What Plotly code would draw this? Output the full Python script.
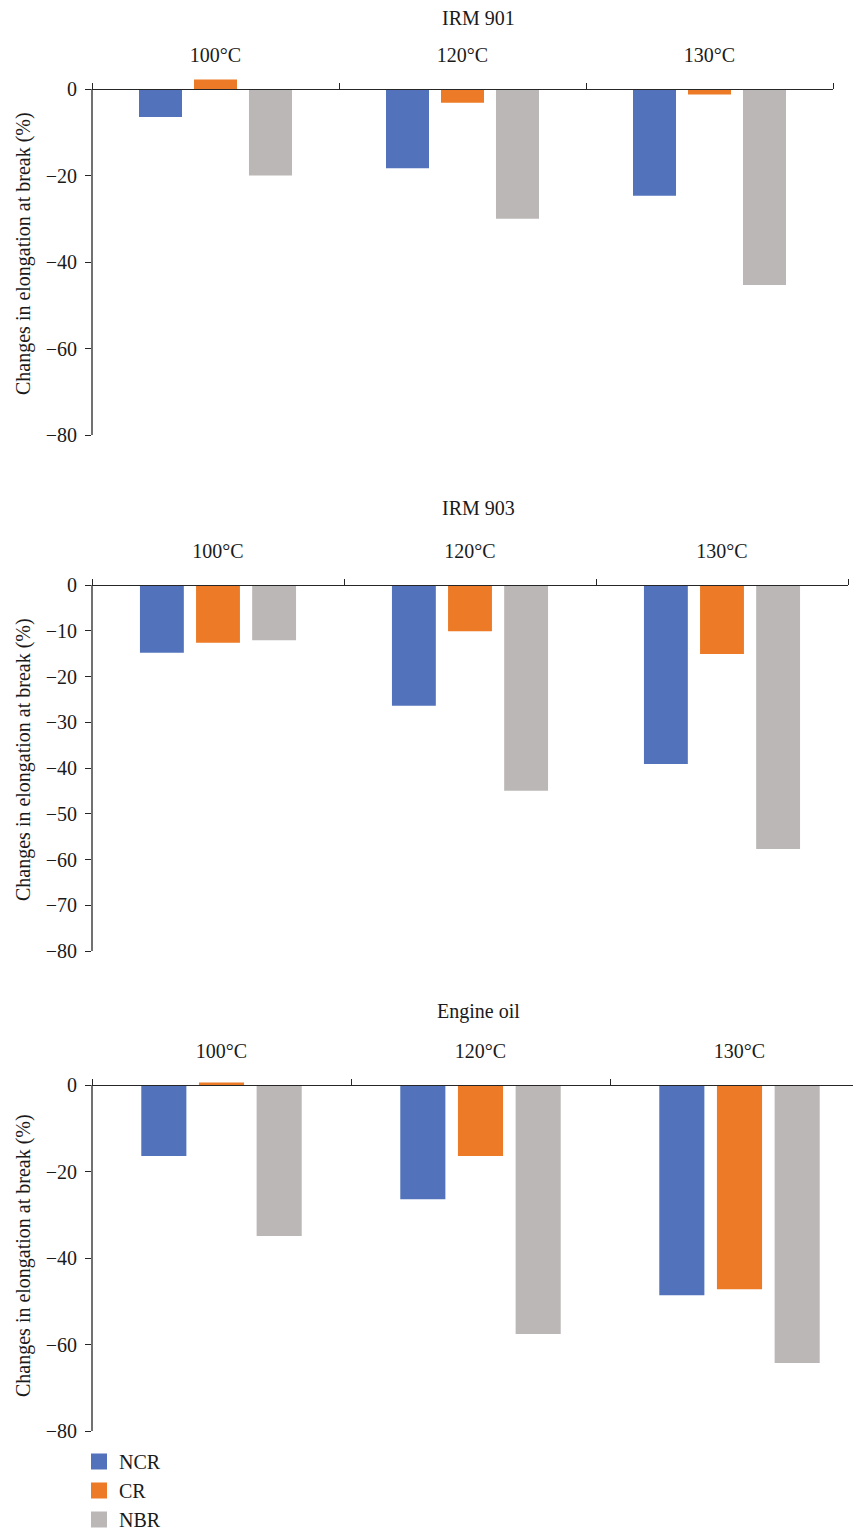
import plotly.graph_objects as go

temps = ["100°C", "120°C", "130°C"]
series = ["NCR", "CR", "NBR"]
colors = {"NCR": "#5273BB", "CR": "#EC7A26", "NBR": "#BBB7B6"}

panel_titles = ["IRM 901", "IRM 903", "Engine oil"]

irm901_ncr = [-6.5, -18.3, -24.7]
irm901_cr = [2.2, -3.2, -1.3]
irm901_nbr = [-20.0, -30.0, -45.3]

irm903_ncr = [-14.8, -26.4, -39.1]
irm903_cr = [-12.6, -10.1, -15.1]
irm903_nbr = [-12.1, -45.0, -57.7]

oil_ncr = [-16.4, -26.4, -48.6]
oil_cr = [0.6, -16.4, -47.2]
oil_nbr = [-34.9, -57.6, -64.3]

y_dticks = [20, 10, 20]
y_min, y_zero = -80, 0
y_title = "Changes in elongation at break (%)"

panels = [
    {"NCR": irm901_ncr, "CR": irm901_cr, "NBR": irm901_nbr},
    {"NCR": irm903_ncr, "CR": irm903_cr, "NBR": irm903_nbr},
    {"NCR": oil_ncr, "CR": oil_cr, "NBR": oil_nbr},
]

OFF = 8  # default page body margin
W, H = 861, 1531 - OFF
FONT = "Liberation Serif"
AX = "#262626"
TXT = "#1a1a1a"
HEADROOM = 2.8  # extra data units above zero so positive bars are visible


def px_x(p):
    return (p - OFF) / W


def px_y(p):
    return 1 - (p - OFF) / H


# page pixel layout (px of zero line, px of -80, left px, right px)
boxes = [(89, 435, 92, 833), (585, 951, 92, 848), (1085, 1431, 92, 869)]
title_px = [18, 508, 1011]
ytitle_px = [254, 760, 1256]

fig = go.Figure()
for i, data in enumerate(panels):
    xa = "x" if i == 0 else f"x{i+1}"
    ya = "y" if i == 0 else f"y{i+1}"
    for s in series:
        fig.add_trace(go.Bar(
            x=temps, y=data[s], name=s, xaxis=xa, yaxis=ya,
            marker=dict(color=colors[s], line=dict(width=0)),
            showlegend=False,
        ))
    top, bot, left, right = boxes[i]
    scale = (bot - top) / (y_zero - y_min)
    dom_top_px = top - HEADROOM * scale
    xk = "xaxis" if i == 0 else f"xaxis{i+1}"
    yk = "yaxis" if i == 0 else f"yaxis{i+1}"
    fig.layout[xk] = dict(
        domain=[px_x(left), min(1.0, px_x(right))], anchor="free",
        position=px_y(top), type="category", side="top",
        showline=True, linecolor=AX, linewidth=1.3, ticks="outside", ticklen=6,
        tickwidth=1.3, tickcolor=AX, tickson="boundaries", showgrid=False,
        tickfont=dict(family=FONT, size=20, color=TXT),
        ticklabelstandoff=19, fixedrange=True,
    )
    fig.layout[yk] = dict(
        domain=[px_y(bot), px_y(dom_top_px)], anchor=xa,
        range=[y_min, y_zero + HEADROOM],
        tickvals=list(range(y_min, y_zero + 1, y_dticks[i])),
        showline=False, ticks="outside", ticklen=6, tickwidth=1.3, tickcolor=AX,
        showgrid=False, zeroline=False,
        tickfont=dict(family=FONT, size=20, color=TXT),
        ticklabelstandoff=4, fixedrange=True,
    )
    # y axis line from -80 to 0
    fig.add_shape(
        type="line", xref=f"{xa} domain", yref=ya, x0=0, x1=0,
        y0=y_min, y1=y_zero, line=dict(color=AX, width=1.3), layer="above",
    )
    fig.add_annotation(
        text=panel_titles[i], xref="paper", yref="paper", x=px_x(479),
        y=px_y(title_px[i]), xanchor="center", yanchor="middle",
        showarrow=False, font=dict(family=FONT, size=20, color=TXT),
    )
    fig.add_annotation(
        text=y_title, xref="paper", yref="paper", x=px_x(23),
        y=px_y(ytitle_px[i]), xanchor="center", yanchor="middle",
        textangle=-90, showarrow=False,
        font=dict(family=FONT, size=20, color=TXT),
    )

# legend entries
for s in series:
    fig.add_trace(go.Scatter(
        x=[None], y=[None], mode="markers", name=s,
        marker=dict(symbol="square", size=16, color=colors[s]),
        showlegend=True, xaxis="x", yaxis="y",
    ))

fig.update_layout(
    width=W, height=H, margin=dict(l=0, r=0, t=0, b=0, autoexpand=False),
    paper_bgcolor="white", plot_bgcolor="rgba(0,0,0,0)",
    barmode="group", bargap=0.332, bargroupgap=0.218,
    legend=dict(
        x=px_x(79), y=px_y(1442), xanchor="left", yanchor="top",
        font=dict(family=FONT, size=20, color=TXT),
        bgcolor="rgba(0,0,0,0)", tracegroupgap=0, itemclick=False,
    ),
    showlegend=True,
)

fig.write_html("out.html")
